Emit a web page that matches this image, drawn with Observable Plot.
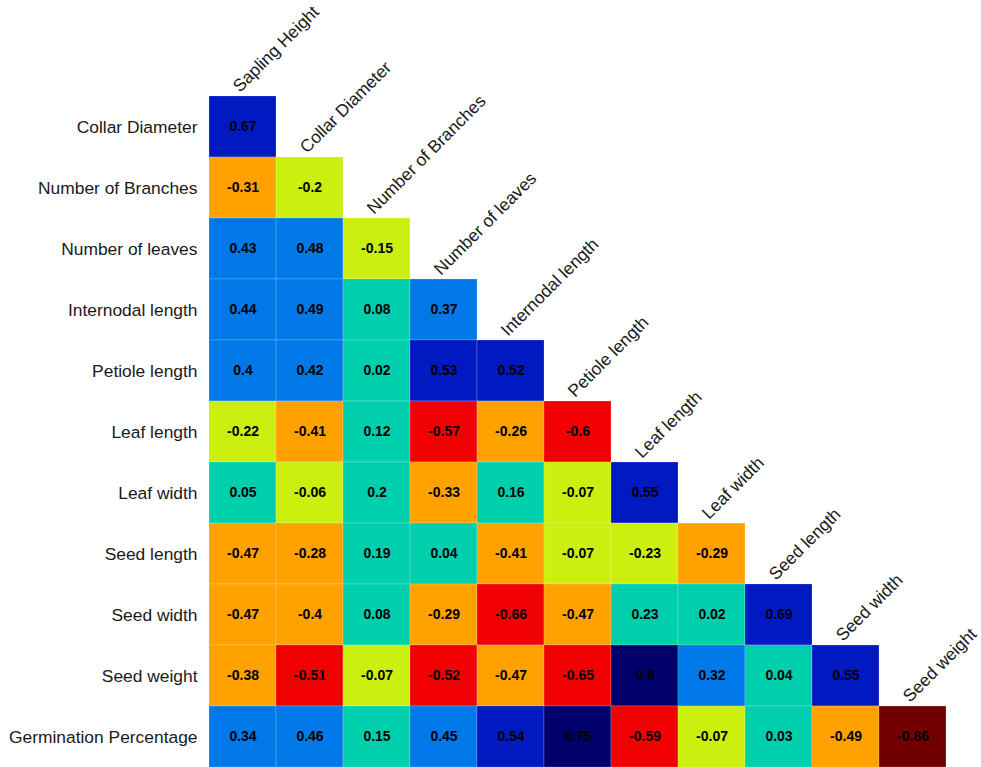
<!DOCTYPE html>
<html>
<head>
<meta charset="utf-8">
<script src="https://cdn.jsdelivr.net/npm/d3@7"></script>
<script src="https://cdn.jsdelivr.net/npm/@observablehq/plot@0.6"></script>
<style>
  html, body { margin: 0; padding: 0; background: #fff; }
  #chart svg { display: block; }
</style>
</head>
<body>
<div id="chart"></div>
<script>
// Trait names: rows of the lower triangle and columns of the lower triangle
const rowNames = [
  "Collar Diameter", "Number of Branches", "Number of leaves", "Internodal length",
  "Petiole length", "Leaf length", "Leaf width", "Seed length", "Seed width",
  "Seed weight", "Germination Percentage"
];
const colNames = [
  "Sapling Height", "Collar Diameter", "Number of Branches", "Number of leaves",
  "Internodal length", "Petiole length", "Leaf length", "Leaf width",
  "Seed length", "Seed width", "Seed weight"
];

// Pearson correlations, one list per row (lower triangle, left to right)
const rCollarDiameter   = [0.67];
const rNumberBranches   = [-0.31, -0.2];
const rNumberLeaves     = [0.43, 0.48, -0.15];
const rInternodal       = [0.44, 0.49, 0.08, 0.37];
const rPetiole          = [0.4, 0.42, 0.02, 0.53, 0.52];
const rLeafLength       = [-0.22, -0.41, 0.12, -0.57, -0.26, -0.6];
const rLeafWidth        = [0.05, -0.06, 0.2, -0.33, 0.16, -0.07, 0.55];
const rSeedLength       = [-0.47, -0.28, 0.19, 0.04, -0.41, -0.07, -0.23, -0.29];
const rSeedWidth        = [-0.47, -0.4, 0.08, -0.29, -0.66, -0.47, 0.23, 0.02, 0.69];
const rSeedWeight       = [-0.38, -0.51, -0.07, -0.52, -0.47, -0.65, 0.8, 0.32, 0.04, 0.55];
const rGermination      = [0.34, 0.46, 0.15, 0.45, 0.54, 0.75, -0.59, -0.07, 0.03, -0.49, -0.86];

const rowValues = [
  rCollarDiameter, rNumberBranches, rNumberLeaves, rInternodal, rPetiole,
  rLeafLength, rLeafWidth, rSeedLength, rSeedWidth, rSeedWeight, rGermination
];

// Colour classes for the correlation coefficient
const breaks = [-0.75, -0.5, -0.25, 0, 0.25, 0.5, 0.75];
const palette = ["#720000", "#f00000", "#ffa200", "#cbef0e", "#00cfae", "#0078e7", "#0019c0", "#00006b"];

// Long table for the cell and label marks
const cells = rowNames.flatMap((row, i) =>
  rowValues[i].map((r, j) => ({row, col: colNames[j], r}))
);
const colLabels = colNames.map((col, j) => ({col, row: rowNames[j]}));

const chart = Plot.plot({
  width: 981,
  height: 767,
  marginTop: 95,
  marginBottom: 0,
  marginLeft: 208,
  marginRight: 35,
  style: {fontFamily: "'Liberation Sans', Arial, sans-serif", fontSize: "17.4px", color: "#1a1a1a", background: "#fff"},
  x: {domain: colNames, padding: 0, axis: null},
  y: {domain: rowNames, padding: 0, tickSize: 0, tickPadding: 11, label: null},
  color: {type: "threshold", domain: breaks, range: palette},
  marks: [
    Plot.cell(cells, {x: "col", y: "row", fill: "r", stroke: "#fff", strokeOpacity: 0.2, strokeWidth: 1}),
    Plot.text(cells, {
      x: "col", y: "row", text: d => String(d.r),
      fill: "#000", fontWeight: "bold", fontSize: 14
    }),
    // Diagonal column headers sit just above the top cell of each column
    Plot.text(colLabels, {
      x: "col", y: "row", text: "col",
      rotate: -45, textAnchor: "start", lineAnchor: "bottom",
      dx: -3, dy: -34, fontSize: 17.4, fill: "#1a1a1a"
    })
  ]
});

document.getElementById("chart").append(chart);
</script>
</body>
</html>
